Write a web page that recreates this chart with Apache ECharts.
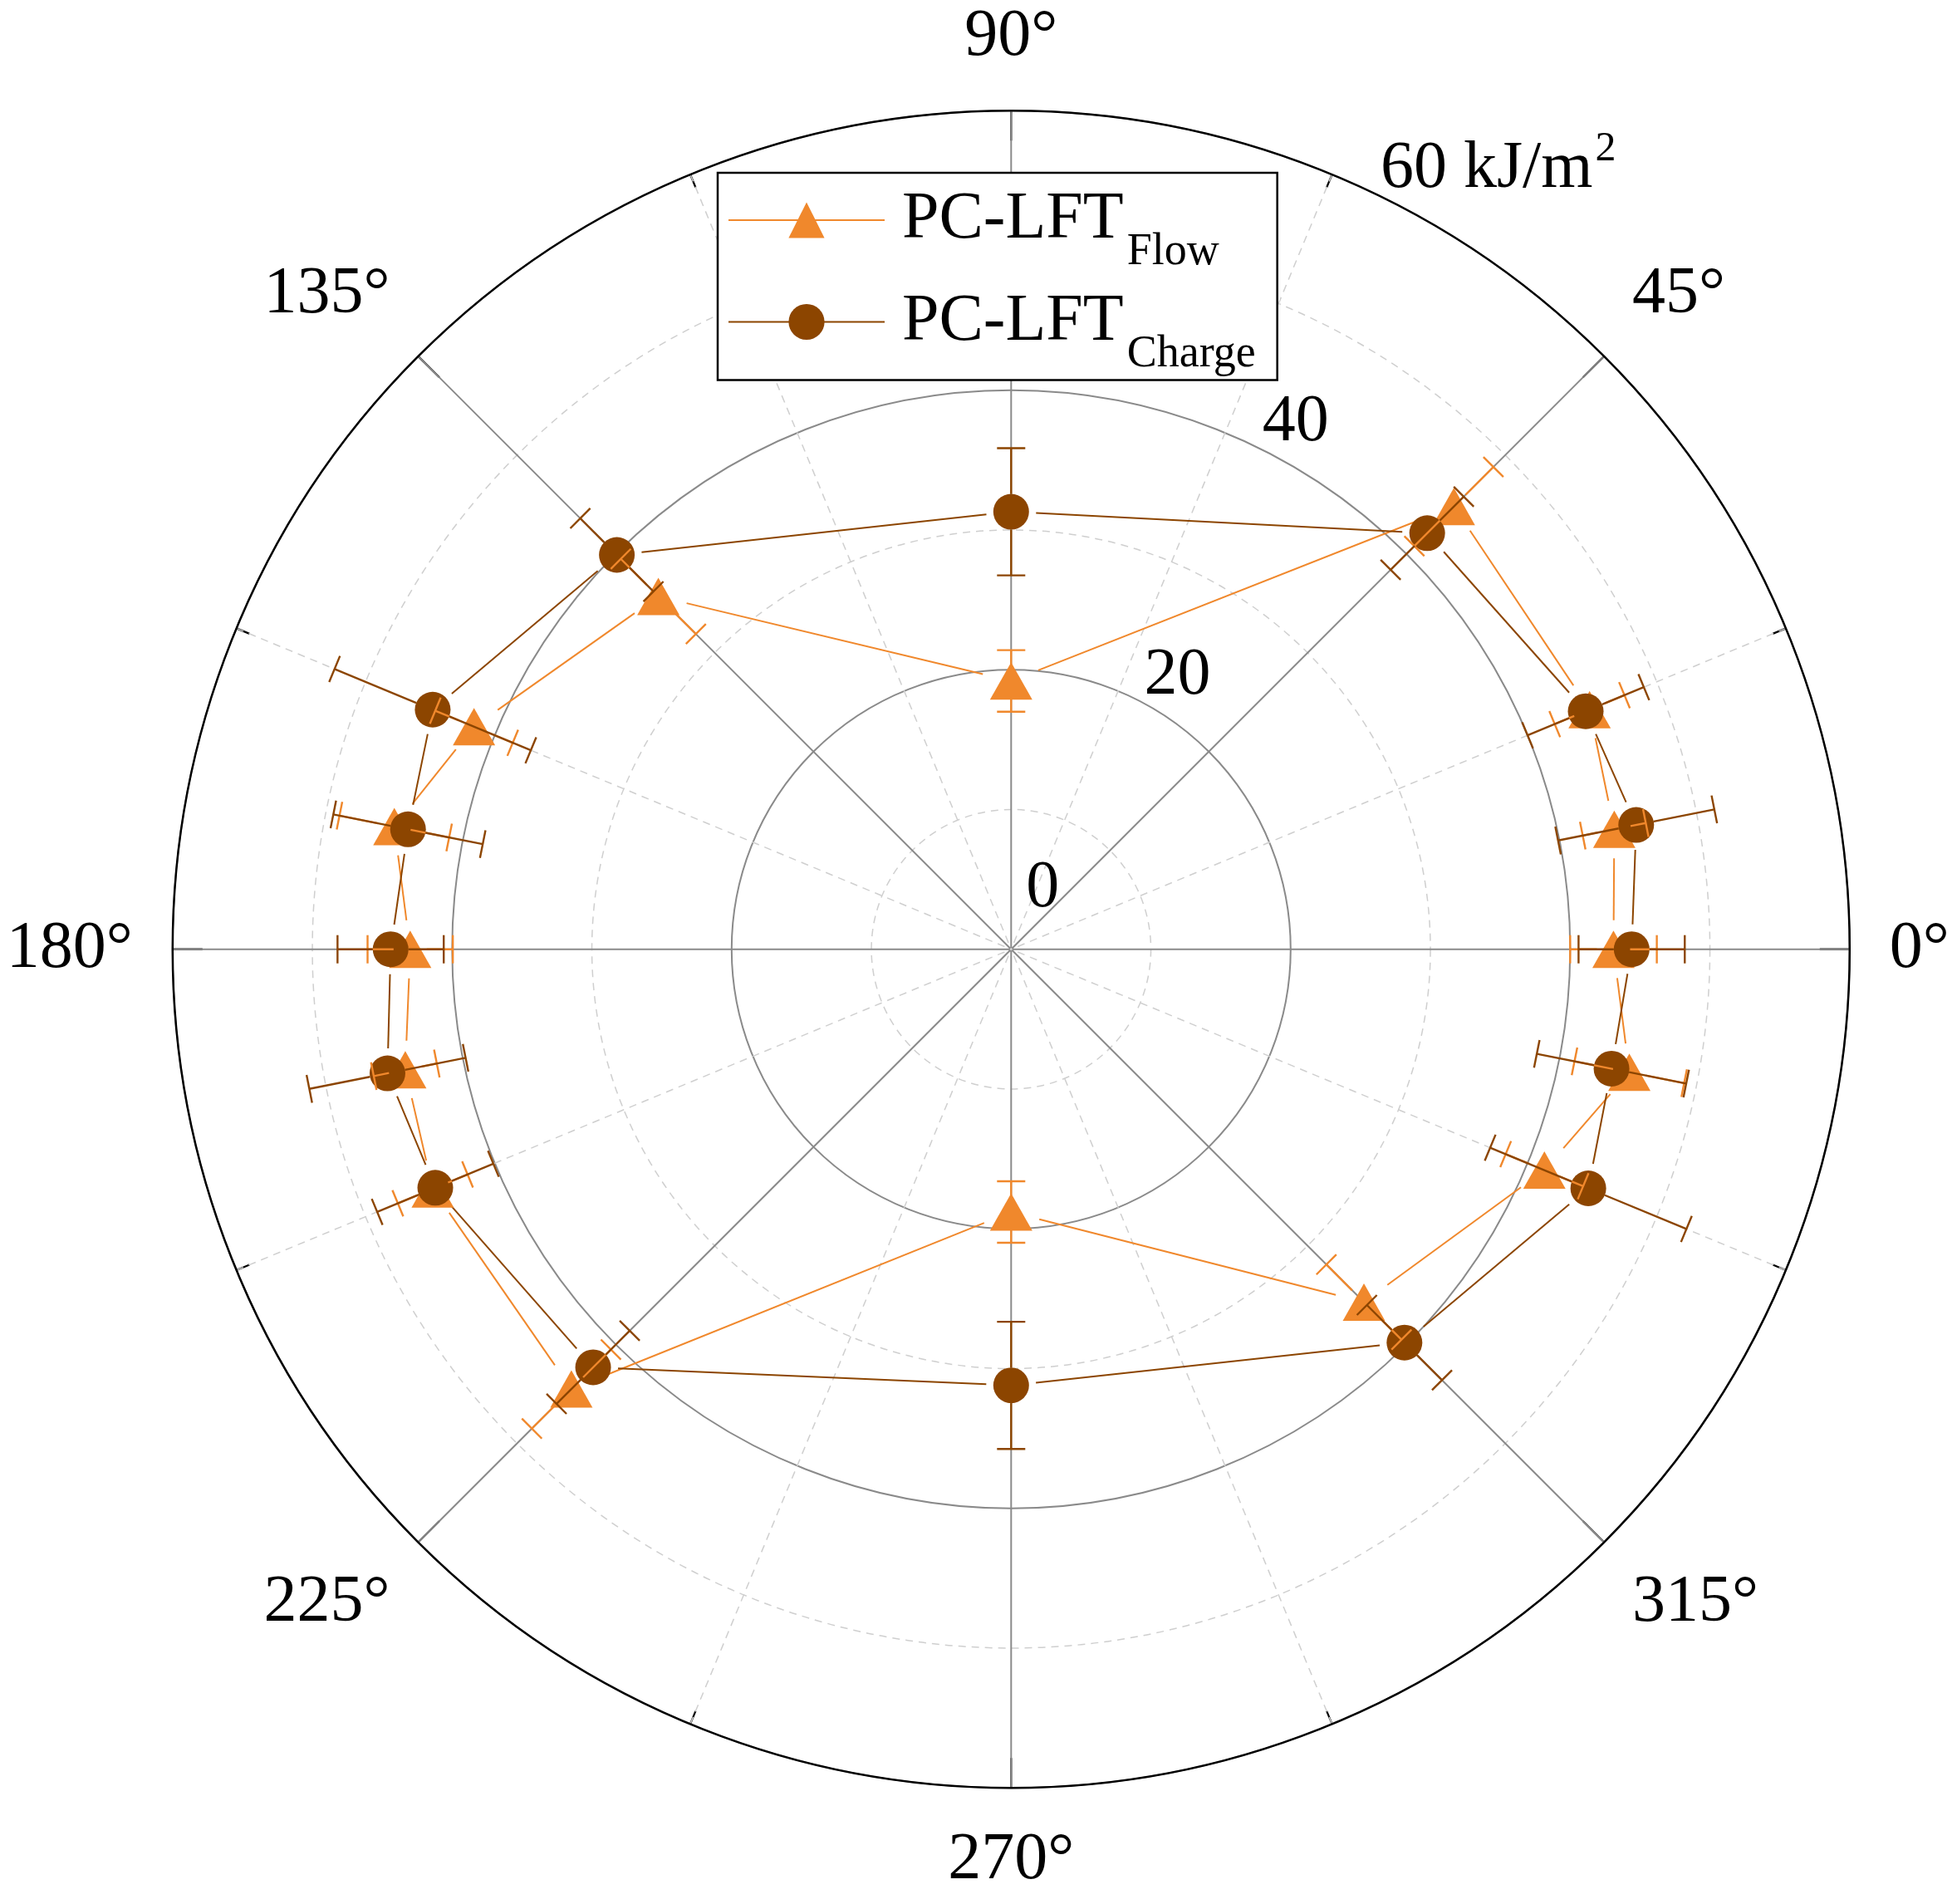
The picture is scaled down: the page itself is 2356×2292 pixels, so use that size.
<!DOCTYPE html>
<html><head><meta charset="utf-8">
<script src="https://cdn.jsdelivr.net/npm/echarts@6/dist/echarts.min.js"></script>
<style>html,body{margin:0;padding:0;background:#fff}#c{width:2356px;height:2292px}</style>
</head><body><div id="c"></div>
<script>
// ---------------- data ----------------
const angles = [0, 11.25, 22.5, 45, 90, 135, 157.5, 168.75, 180, 191.25, 202.5, 225, 270, 315, 337.5, 348.75];
const flowValues   = [43.1, 44.0, 44.8, 44.8, 19.2, 35.7, 41.6, 45.0, 43.0, 44.2, 44.8, 44.5, 18.8, 35.7, 41.3, 45.1];
const flowErrors   = [3.1, 2.3, 2.7, 4.0, 2.2, 3.8, 3.0, 4.0, 3.05, 2.3, 2.7, 4.0, 2.2, 3.8, 3.0, 4.0];
const chargeValues = [44.4, 45.6, 44.5, 42.1, 31.3, 39.9, 44.8, 44.0, 44.4, 45.5, 44.6, 42.3, 31.2, 39.8, 44.7, 43.8];
const chargeErrors = [3.8, 5.7, 4.5, 3.7, 4.55, 3.7, 7.6, 5.45, 3.8, 5.7, 4.5, 3.7, 4.55, 3.8, 7.6, 5.45];
const seriesNames = ['PC-LFT_Flow', 'PC-LFT_Charge'];
const radiusUnit = 'kJ/m';
const radiusUnitPower = '2';

// ---------------- style ----------------
const FONT = '"Liberation Serif", "Times New Roman", serif';
const ORANGE = '#F0882C', BROWN = '#8C4500';
const GRID = '#8a8a8a', MINOR = '#cfcfcf';

function toData(vals, errs) { return vals.map((v, i) => [v, angles[i], errs[i]]); }

function lineRenderer(vals, gap, color) {
  return function (params, api) {
    const i = params.dataIndex, j = (i + 1) % vals.length;
    const p = api.coord([vals[i], angles[i]]);
    const q = api.coord([vals[j], angles[j]]);
    const dx = q[0] - p[0], dy = q[1] - p[1], L = Math.hypot(dx, dy);
    if (L <= 2 * gap) return { type: 'group', children: [] };
    const ux = dx / L, uy = dy / L;
    return { type: 'line', shape: { x1: p[0] + ux * gap, y1: p[1] + uy * gap, x2: q[0] - ux * gap, y2: q[1] - uy * gap },
             style: { stroke: color, lineWidth: 2 } };
  };
}

function errRenderer(color, ownHalf, capLen) {
  return function (params, api) {
    const r = api.value(0), a = api.value(1), e = api.value(2);
    const c = api.coord([0, a]);
    const p = api.coord([r, a]);
    const lo = api.coord([r - e, a]);
    const hi = api.coord([r + e, a]);
    let ux = p[0] - c[0], uy = p[1] - c[1];
    const L = Math.hypot(ux, uy); ux /= L; uy /= L;
    const nx = -uy, ny = ux, h = capLen / 2;
    const st = { stroke: color, lineWidth: 2.4 };
    const inEnd = [p[0] - ux * ownHalf, p[1] - uy * ownHalf];
    const outStart = [p[0] + ux * ownHalf, p[1] + uy * ownHalf];
    const kids = [
      { type: 'line', shape: { x1: lo[0], y1: lo[1], x2: inEnd[0], y2: inEnd[1] }, style: st },
      { type: 'line', shape: { x1: outStart[0], y1: outStart[1], x2: hi[0], y2: hi[1] }, style: st },
      { type: 'line', shape: { x1: lo[0] - nx * h, y1: lo[1] - ny * h, x2: lo[0] + nx * h, y2: lo[1] + ny * h }, style: st },
      { type: 'line', shape: { x1: hi[0] - nx * h, y1: hi[1] - ny * h, x2: hi[0] + nx * h, y2: hi[1] + ny * h }, style: st }
    ];
    return { type: 'group', children: kids };
  };
}

const chart = echarts.init(document.getElementById('c'), null, { renderer: 'canvas' });
const center = [1217.3, 1142.7], radius = 1009.5;

const option = {
  animation: false,
  backgroundColor: '#fff',
  polar: [{ center: center, radius: radius }, { center: center, radius: radius }],
  angleAxis: [{
    polarIndex: 0, type: 'value', min: 0, max: 360, interval: 45, startAngle: 0, clockwise: false,
    axisLine: { show: true, lineStyle: { color: '#000', width: 2.5 } },
    axisTick: { show: true, inside: true, length: 36, lineStyle: { color: '#000', width: 2.2 } },
    minorTick: { show: true, splitNumber: 2, length: 17, lineStyle: { color: '#000', width: 2.2 } },
    axisLabel: { show: true, margin: 48, fontSize: 80, fontFamily: FONT, color: '#000', formatter: v => v + '°' },
    splitLine: { show: true, lineStyle: { color: GRID, width: 2 } },
    minorSplitLine: { show: true, lineStyle: { color: MINOR, width: 1.5, type: [9, 7] } }
  }, {
    polarIndex: 1, type: 'value', min: 0, max: 360, startAngle: 65, clockwise: false,
    axisLine: { show: false }, axisTick: { show: false }, axisLabel: { show: false }, splitLine: { show: false }
  }],
  radiusAxis: [{
    polarIndex: 0, type: 'value', min: 0, max: 60, interval: 20,
    axisLine: { show: false }, axisTick: { show: false }, axisLabel: { show: false },
    splitLine: { show: true, lineStyle: { color: GRID, width: 2 } },
    minorTick: { show: false, splitNumber: 2 },
    minorSplitLine: { show: true, lineStyle: { color: MINOR, width: 1.5, type: [9, 7] } }
  }, {
    polarIndex: 1, type: 'value', min: 0, max: 60, interval: 20,
    axisLine: { show: false }, axisTick: { show: false }, splitLine: { show: false },
    axisLabel: {
      show: true, margin: 0, align: 'left', verticalAlign: 'middle', padding: [0, 0, 48, 18], lineHeight: 98,
      fontSize: 80, fontFamily: FONT, color: '#000', showMinLabel: true, showMaxLabel: true,
      formatter: v => v === 0 ? '0\n' : (v === 60 ? '{a|60 ' + radiusUnit + '}{b|' + radiusUnitPower + '}' : String(v)),
      rich: {
        a: { fontSize: 80, fontFamily: FONT, color: '#000' },
        b: { fontSize: 50, fontFamily: FONT, color: '#000', padding: [0, 0, 48, 3] }
      }
    }
  }],
  legend: {
    data: seriesNames, orient: 'vertical', left: 864, top: 208, padding: [17, 26, 4, 12],
    itemWidth: 188, itemHeight: 54, itemGap: 16.5, selectedMode: false,
    backgroundColor: '#fff', borderColor: '#000', borderWidth: 2.5, borderRadius: 0,
    lineStyle: { width: 2 },
    textStyle: {
      fontFamily: FONT, fontSize: 80, color: '#000',
      rich: {
        m: { fontSize: 80, fontFamily: FONT, color: '#000', padding: [0, 0, 0, 16] },
        s: { fontSize: 54, fontFamily: FONT, color: '#000', padding: [78, 0, 0, 4] }
      }
    },
    formatter: n => { const parts = n.split('_'); return '{m|' + parts[0] + '}{s|' + parts[1] + '}'; }
  },
  series: [
    { type: 'custom', name: 'flowLine', coordinateSystem: 'polar', polarIndex: 0, encode: { radius: 0, angle: 1 },
      data: toData(flowValues, flowErrors), renderItem: lineRenderer(flowValues, 35, ORANGE), z: 2, silent: true },
    { type: 'custom', name: 'chargeLine', coordinateSystem: 'polar', polarIndex: 0, encode: { radius: 0, angle: 1 },
      data: toData(chargeValues, chargeErrors), renderItem: lineRenderer(chargeValues, 30, BROWN), z: 2, silent: true },
    { type: 'line', name: seriesNames[0], coordinateSystem: 'polar', polarIndex: 0,
      data: flowValues.map((v, i) => [v, angles[i]]), symbol: 'triangle', symbolSize: [51, 45],
      showSymbol: true, showAllSymbol: true, lineStyle: { width: 0, color: ORANGE }, itemStyle: { color: ORANGE }, z: 3, silent: true },
    { type: 'line', name: seriesNames[1], coordinateSystem: 'polar', polarIndex: 0,
      data: chargeValues.map((v, i) => [v, angles[i]]), symbol: 'circle', symbolSize: 43,
      showSymbol: true, showAllSymbol: true, lineStyle: { width: 0, color: BROWN }, itemStyle: { color: BROWN }, z: 4, silent: true },
    { type: 'custom', name: 'flowErr', coordinateSystem: 'polar', polarIndex: 0, encode: { radius: 0, angle: 1 },
      data: toData(flowValues, flowErrors), renderItem: errRenderer(ORANGE, 20, 34), z: 5, silent: true },
    { type: 'custom', name: 'chargeErr', coordinateSystem: 'polar', polarIndex: 0, encode: { radius: 0, angle: 1 },
      data: toData(chargeValues, chargeErrors), renderItem: errRenderer(BROWN, 21.5, 34), z: 5, silent: true }
  ]
};
chart.setOption(option);
</script></body></html>
